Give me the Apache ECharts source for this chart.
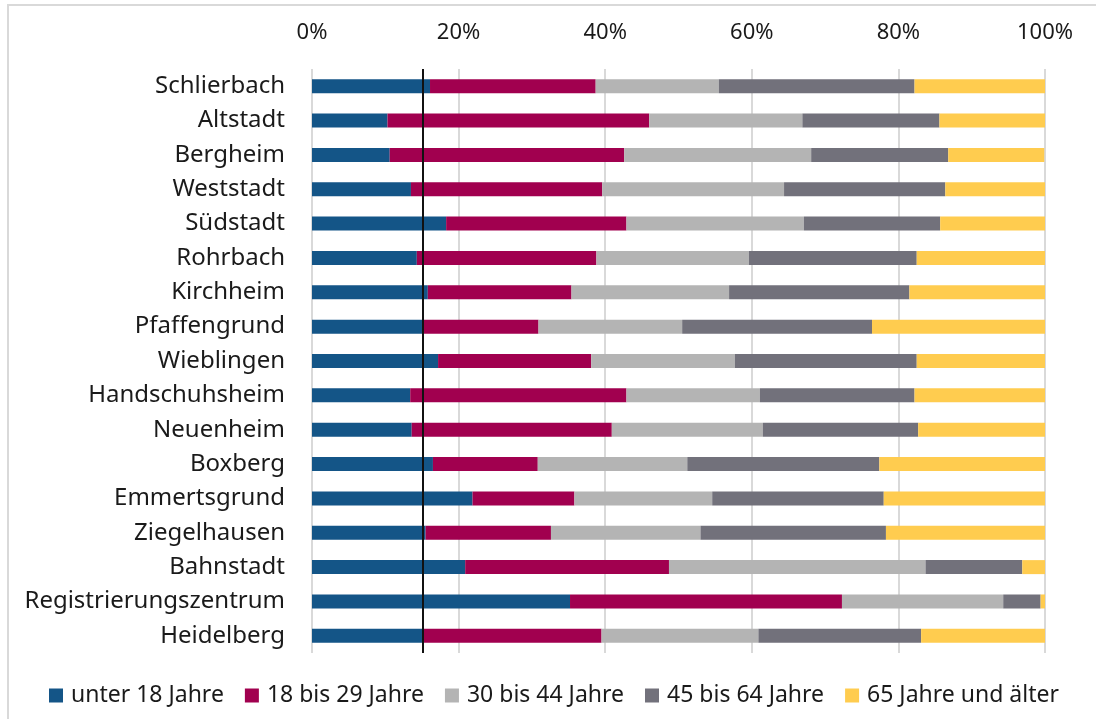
<!DOCTYPE html>
<html>
<head>
<meta charset="utf-8">
<script src="https://cdn.jsdelivr.net/npm/echarts@6/dist/echarts.min.js"></script>
<style>
  html, body { margin: 0; padding: 0; background: #fff; }
  #chart { width: 1096px; height: 719px; }
</style>
</head>
<body>
<div id="chart"></div>
<script>
// Stadtteile, von oben nach unten
var stadtteile = ['Schlierbach', 'Altstadt', 'Bergheim', 'Weststadt', 'Südstadt', 'Rohrbach',
  'Kirchheim', 'Pfaffengrund', 'Wieblingen', 'Handschuhsheim', 'Neuenheim', 'Boxberg',
  'Emmertsgrund', 'Ziegelhausen', 'Bahnstadt', 'Registrierungszentrum', 'Heidelberg']

// Anteile in Prozent
var unter18 = [16.1, 10.3, 10.6, 13.5, 18.3, 14.3, 15.8, 15.1, 17.2, 13.4, 13.6, 16.5, 21.9, 15.5, 20.9, 35.2, 15.1]
var j18bis29 = [22.6, 35.7, 32.0, 26.1, 24.6, 24.5, 19.6, 15.8, 20.9, 29.5, 27.3, 14.3, 13.9, 17.1, 27.8, 37.1, 24.4]
var j30bis44 = [16.8, 20.9, 25.5, 24.8, 24.2, 20.8, 21.5, 19.6, 19.6, 18.2, 20.6, 20.4, 18.8, 20.4, 35.0, 22.0, 21.4]
var j45bis64 = [26.7, 18.7, 18.7, 22.0, 18.6, 22.9, 24.6, 25.9, 24.8, 21.1, 21.2, 26.2, 23.4, 25.3, 13.2, 5.1, 22.2]
var ab65 = [17.8, 14.4, 13.1, 13.6, 14.3, 17.5, 18.5, 23.6, 17.5, 17.8, 17.3, 22.6, 22.0, 21.7, 3.1, 0.7, 16.9]

var gruppen = ['unter 18 Jahre', '18 bis 29 Jahre', '30 bis 44 Jahre', '45 bis 64 Jahre', '65 Jahre und älter']
var werte = [unter18, j18bis29, j30bis44, j45bis64, ab65]
var farben = ['#145587', '#a1004f', '#b4b4b4', '#72717b', '#ffcc4f']
var xTicks = [0, 20, 40, 60, 80, 100]

// Referenzlinie: Anteil unter 18 in ganz Heidelberg
var referenz = unter18[stadtteile.indexOf('Heidelberg')]

var font = '"Noto Sans", "Open Sans", sans-serif'
var chart = echarts.init(document.getElementById('chart'))

var series = gruppen.map(function (name, i) {
  var s = {
    name: name,
    type: 'bar',
    stack: 'gesamt',
    barWidth: 14,
    itemStyle: { color: farben[i] },
    data: werte[i]
  }
  if (i === 0) {
    s.markLine = {
      silent: true,
      symbol: 'none',
      label: { show: false },
      lineStyle: { color: '#111', width: 2, type: 'solid' },
      data: [{ xAxis: referenz }]
    }
  }
  return s
})

chart.setOption({
  animation: false,
  textStyle: { fontFamily: font },
  graphic: [{
    type: 'rect',
    shape: { x: 8, y: 5, width: 1200, height: 800 },
    style: { fill: 'none', stroke: '#d9d9d9', lineWidth: 2 }
  }],
  grid: {
    left: 312,
    right: 51,
    top: 69,
    bottom: 66
  },
  legend: {
    bottom: 7,
    left: 44,
    itemWidth: 14,
    itemHeight: 14,
    itemGap: 21,
    icon: 'rect',
    textStyle: { fontSize: 23, color: '#1a1a1a', fontFamily: font, padding: [0, 0, 0, 3] },
    data: gruppen
  },
  xAxis: {
    type: 'value',
    position: 'top',
    min: xTicks[0],
    max: xTicks[xTicks.length - 1],
    interval: 20,
    axisLine: { show: false },
    axisTick: { show: false },
    axisLabel: {
      margin: 25,
      fontSize: 22,
      color: '#1a1a1a',
      formatter: '{value}%'
    },
    splitLine: { lineStyle: { color: '#d9d9d9', width: 2 } }
  },
  yAxis: {
    type: 'category',
    inverse: true,
    data: stadtteile,
    axisLine: { show: false },
    axisTick: { show: false },
    axisLabel: {
      margin: 27,
      fontSize: 24,
      color: '#1a1a1a'
    }
  },
  series: series
})
</script>
</body>
</html>
